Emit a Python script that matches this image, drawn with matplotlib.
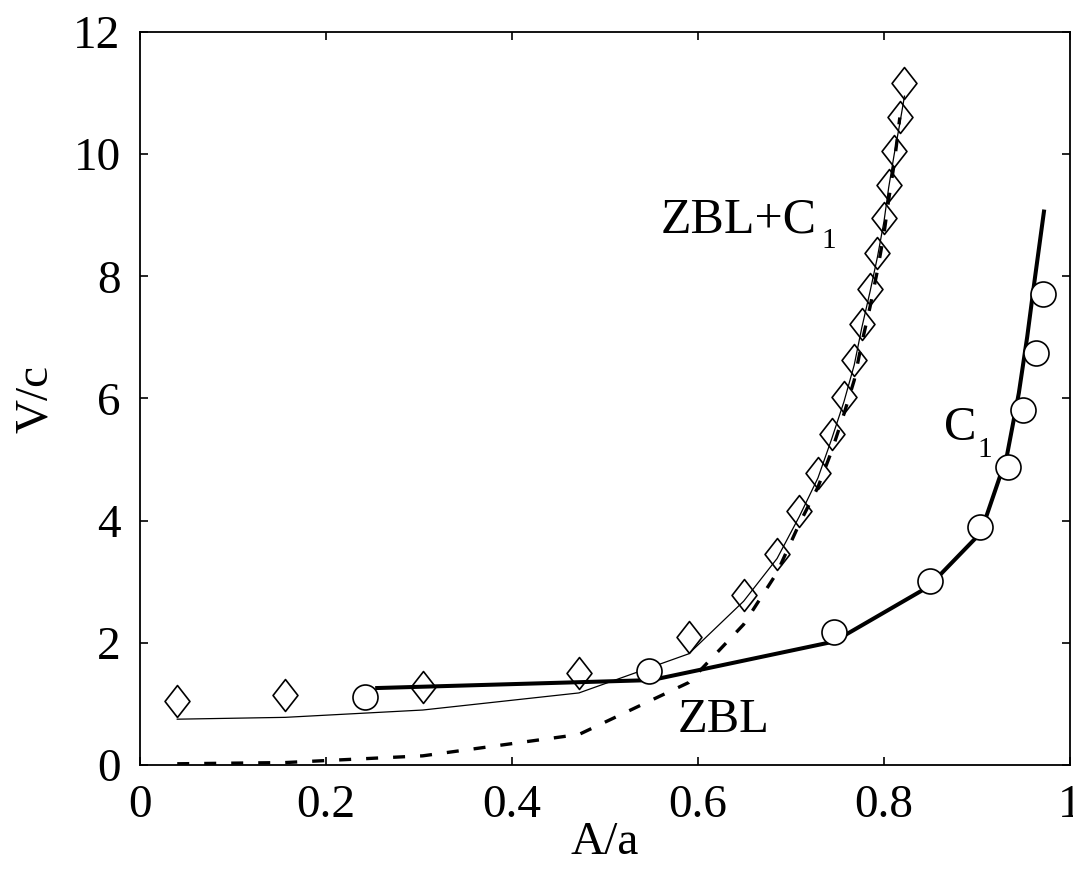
import matplotlib.pyplot as plt
from matplotlib.path import Path

plt.rcParams['font.family'] = ['Liberation Serif', 'DejaVu Serif']

# --- Data ---
# ZBL+C1 : simulation points (diamonds)
zc_x = [0.040, 0.156, 0.304, 0.472, 0.590, 0.649, 0.685, 0.709, 0.729, 0.744,
        0.757, 0.768, 0.776, 0.785, 0.793, 0.800, 0.805, 0.811, 0.817, 0.822]
zc_y = [1.05, 1.15, 1.27, 1.50, 2.10, 2.78, 3.46, 4.16, 4.78, 5.42,
        6.02, 6.63, 7.22, 7.79, 8.38, 8.96, 9.50, 10.05, 10.61, 11.16]
# ZBL+C1 : model curve (thin line)
zc_fit = [0.75, 0.78, 0.90, 1.18, 1.82, 2.68, 3.38, 4.07, 4.70, 5.35,
          5.95, 6.55, 7.15, 7.75, 8.32, 8.90, 9.45, 10.00, 10.50, 10.95]
# ZBL alone (dashed)
zbl_x = [0.040, 0.156, 0.304, 0.472, 0.590, 0.649, 0.685, 0.709, 0.729, 0.744,
         0.757, 0.768, 0.776, 0.785, 0.793, 0.800, 0.805, 0.811, 0.817]
zbl_y = [0.02, 0.04, 0.15, 0.50, 1.35, 2.30, 3.15, 3.95, 4.55, 5.15,
         5.75, 6.30, 6.90, 7.50, 8.10, 8.70, 9.25, 9.85, 10.60]
# C1 : simulation points (circles) and model curve
c1_x = [0.242, 0.547, 0.746, 0.849, 0.903, 0.933, 0.950, 0.963, 0.971]
c1_y = [1.12, 1.54, 2.18, 3.01, 3.90, 4.88, 5.81, 6.75, 7.71]
c1_fit_x = [0.255, 0.550, 0.746, 0.848, 0.904, 0.932, 0.945, 0.954, 0.962, 0.972]
c1_fit_y = [1.26, 1.39, 2.02, 2.92, 3.80, 5.05, 6.09, 7.01, 7.94, 9.06]

# --- Figure ---
fig = plt.figure(figsize=(10.73, 8.71), dpi=100)
ax = fig.add_axes([0.1305, 0.1217, 0.8667, 0.8416])

diamond = Path([(0, 1), (0.78, 0), (0, -1), (-0.78, 0), (0, 1)],
               [Path.MOVETO, Path.LINETO, Path.LINETO, Path.LINETO, Path.CLOSEPOLY])

ax.plot(zbl_x, zbl_y, color='black', lw=2.4, dashes=(3.6, 4.5), zorder=2)
ax.plot(zc_x, zc_fit, color='black', lw=0.9, zorder=3)
ax.plot(c1_fit_x, c1_fit_y, color='black', lw=2.9, zorder=3)
ax.plot(zc_x, zc_y, ls='none', marker=diamond, ms=23, mfc='none',
        mec='black', mew=1.2, zorder=4)
ax.plot(c1_x, c1_y, ls='none', marker='o', ms=18, mfc='white',
        mec='black', mew=1.2, zorder=5)

# curve labels (subscript "1" drawn smaller and lower, as in the original)
ax.text(0.560, 8.71, 'ZBL+C', fontsize=36, ha='left', va='baseline')
ax.text(0.733, 8.46, '1', fontsize=21, ha='left', va='baseline')
ax.text(0.864, 5.32, 'C', fontsize=35, ha='left', va='baseline')
ax.text(0.901, 5.04, '1', fontsize=21, ha='left', va='baseline')
ax.text(0.578, 0.545, 'ZBL', fontsize=35, ha='left', va='baseline')

ax.set_xlim(0, 1)
ax.set_ylim(0, 12)
ax.set_xticks([0, 0.2, 0.4, 0.6, 0.8, 1])
ax.set_xticklabels(['0', '0.2', '0.4', '0.6', '0.8', '1'])
ax.set_yticks(range(0, 13, 2))
ax.tick_params(direction='in', length=6, width=1.2, top=True, right=True,
               labelsize=34, pad=14)
for s in ax.spines.values():
    s.set_linewidth(1.3)

ax.set_xlabel('A/a', fontsize=34, labelpad=-4)
ax.set_ylabel('V/c', fontsize=34, labelpad=12)

fig.savefig('out.png', dpi=100)
